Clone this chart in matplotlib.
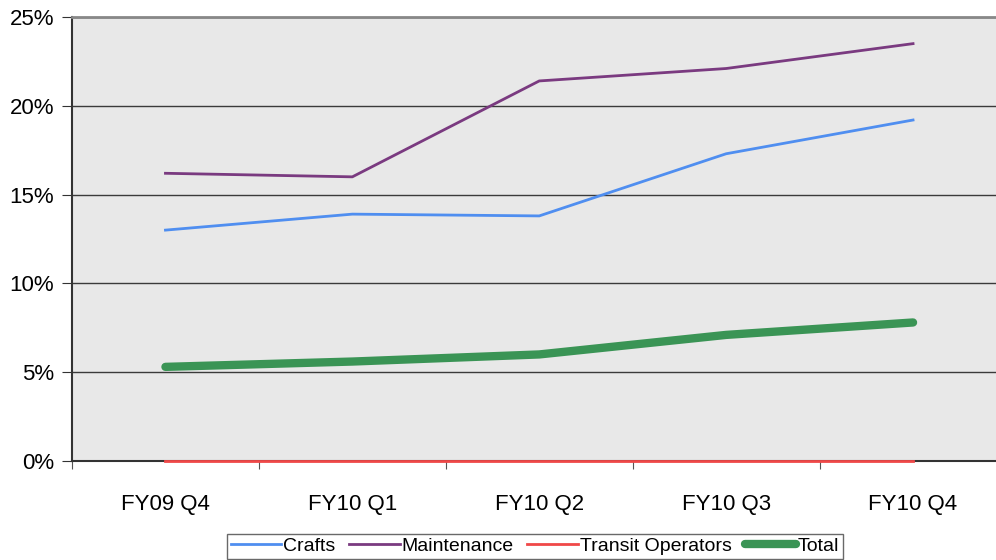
import matplotlib
matplotlib.use("Agg")
import matplotlib.pyplot as plt
from matplotlib.ticker import FixedLocator

categories = ["FY09 Q4", "FY10 Q1", "FY10 Q2", "FY10 Q3", "FY10 Q4"]
crafts = [13.0, 13.9, 13.8, 17.3, 19.2]
maintenance = [16.2, 16.0, 21.4, 22.1, 23.5]
transit = [0.0, 0.0, 0.0, 0.0, 0.0]
total = [5.3, 5.6, 6.0, 7.1, 7.8]
yticks = [0, 5, 10, 15, 20, 25]

plt.rcParams['font.family'] = ['Liberation Sans', 'DejaVu Sans']

fig = plt.figure(figsize=(9.96, 5.6), dpi=100)
ax = fig.add_axes([72/996, 99/560, 1 - 72/996, (461-17)/560])
ax.set_facecolor('#e8e8e8')

x = list(range(len(categories)))
ax.plot(x, crafts, color='#4f8ef0', lw=2, label='Crafts', zorder=3)
ax.plot(x, maintenance, color='#7a3a80', lw=2, label='Maintenance', zorder=3)
ax.plot(x, transit, color='#f04848', lw=2, label='Transit Operators', zorder=4, clip_on=False)
ax.plot(x, total, color='#3a9455', lw=6, label='Total', zorder=3, solid_capstyle='round')

ax.set_ylim(0, 25)
ax.set_xlim(-0.5, (996 - 165) / 187)
ax.set_yticks(yticks)
ax.set_yticklabels([f"{v}%" for v in yticks], fontsize=16)
ax.yaxis.grid(True, color='#3a3a3a', lw=1.0)
ax.set_axisbelow(True)

ax.xaxis.set_major_locator(FixedLocator([i - 0.5 for i in range(len(categories) + 1)]))
ax.xaxis.set_minor_locator(FixedLocator(x))
ax.set_xticklabels([])
ax.set_xticklabels(categories, minor=True, fontsize=16)
ax.tick_params(axis='x', which='minor', length=0, pad=24)
ax.tick_params(axis='x', which='major', length=6, color='#555555', direction='out')
ax.tick_params(axis='y', length=7, color='#333333', pad=6)

ax.spines['right'].set_visible(False)
ax.spines['top'].set_color('#888888')
ax.spines['top'].set_linewidth(2)
ax.spines['left'].set_color('#333333')
ax.spines['left'].set_linewidth(1.5)
ax.spines['bottom'].set_color('#333333')
ax.spines['bottom'].set_linewidth(1.5)

leg = fig.legend(loc='lower center', bbox_to_anchor=(535/996, 0.0), ncol=4, frameon=True,
                 fontsize=14, handlelength=2.6, handletextpad=0.1, columnspacing=0.7,
                 borderpad=0.2, fancybox=False, borderaxespad=0.05)
leg.get_frame().set_edgecolor('#444444')
leg.get_frame().set_linewidth(1)

fig.savefig('out.png', dpi=100)
